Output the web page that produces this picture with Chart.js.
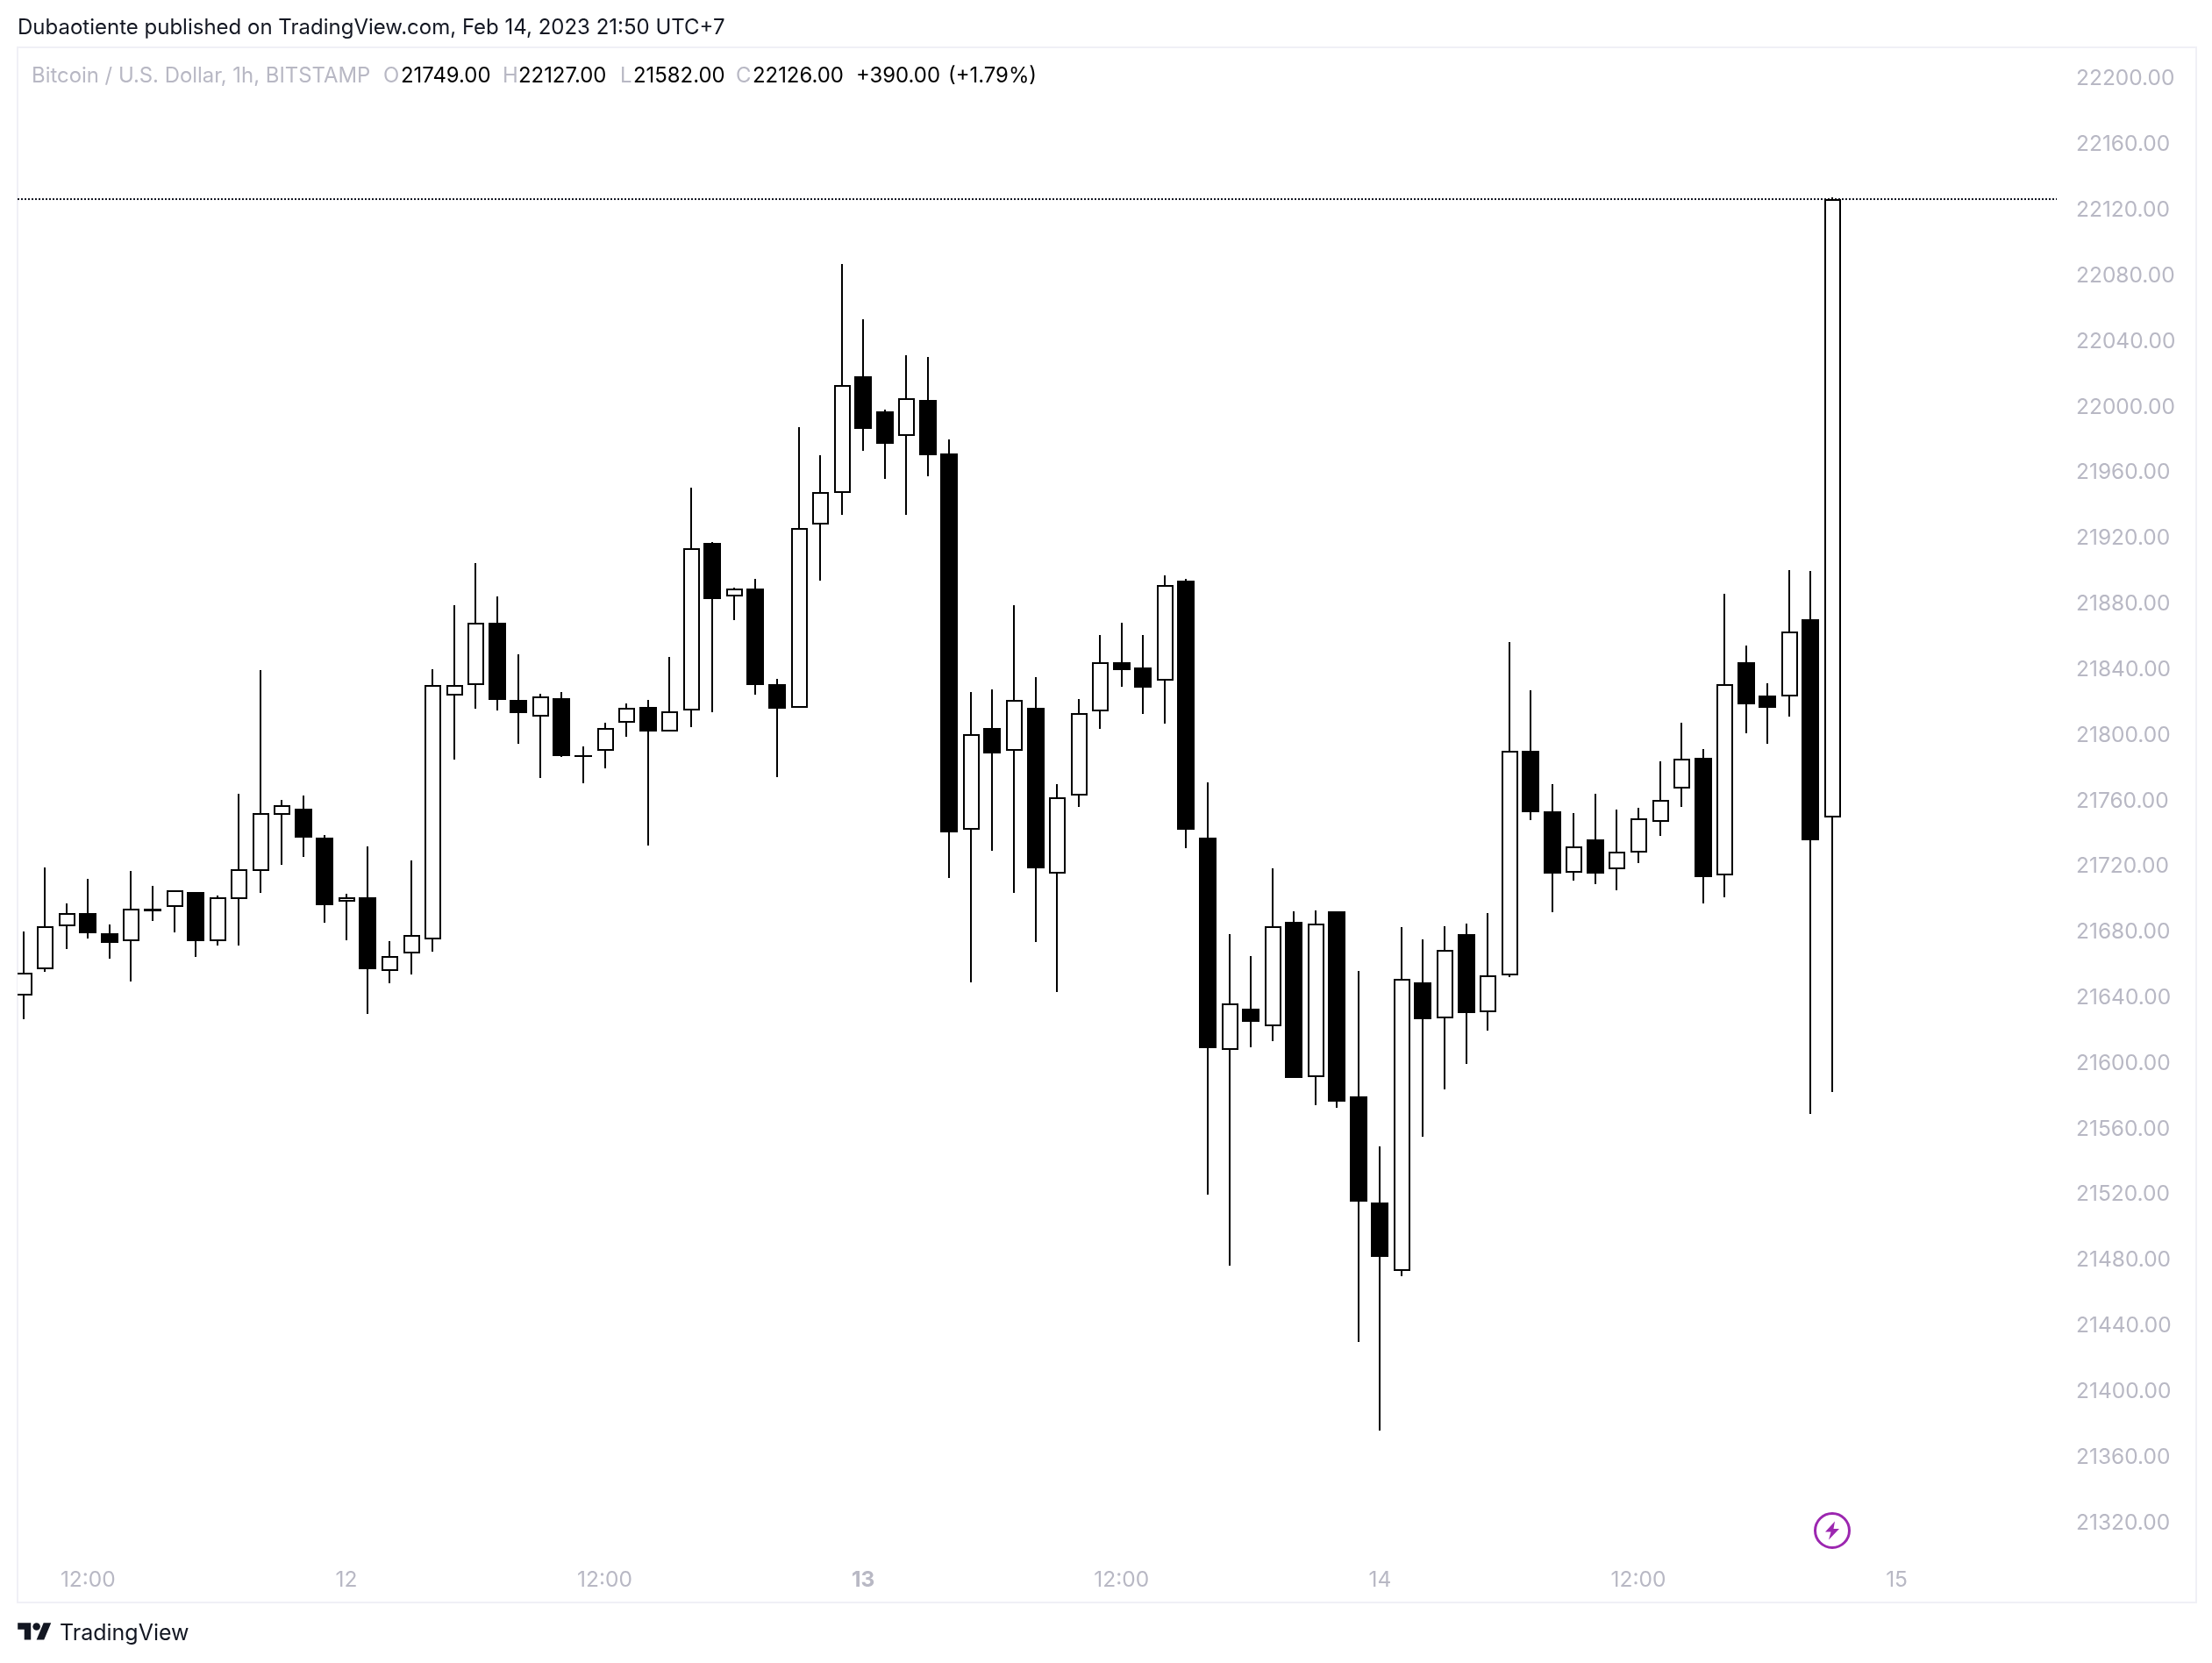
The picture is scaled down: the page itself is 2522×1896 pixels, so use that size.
<!DOCTYPE html>
<html>
<head>
<meta charset="utf-8">
<title>BTCUSD 1h</title>
<script src="https://cdn.jsdelivr.net/npm/chart.js@4"></script>
<style>
  html, body { margin: 0; background: #fff; }
  body { width: 2522px; height: 1896px; position: relative; overflow: hidden; font-family: Inter, sans-serif; }
  #c { position: absolute; left: 0; top: 0; display: block; }
  #pane { position: absolute; left: 19px; top: 53px; width: 2482px; height: 1771px; border: 2px solid #f0f0f6; }
  .txt { position: absolute; white-space: nowrap; }
  #published { left: 20px; top: 18px; font-size: 24px; line-height: 26px; color: #131722; }
  #legend span { position: absolute; top: 73px; line-height: 26px; font-size: 23.9px; white-space: nowrap; color: #000; }
  #legend span.g { color: #b8b8c4; }
  #brand { left: 68px; top: 1845px; font-size: 25px; line-height: 32px; color: #131722; }
  #logo { position: absolute; left: 20px; top: 1846px; }
</style>
</head>
<body>
<div id="pane"></div>
<canvas id="c" width="2522" height="1896"></canvas>
<div class="txt" id="published">Dubaotiente published on TradingView.com, Feb 14, 2023 21:50 UTC+7</div>
<div id="legend">
  <span class="g" style="left:36px">Bitcoin / U.S. Dollar, 1h, BITSTAMP</span>
  <span class="g" style="left:437px">O</span><span style="left:457px">21749.00</span>
  <span class="g" style="left:573px">H</span><span style="left:591px">22127.00</span>
  <span class="g" style="left:707px">L</span><span style="left:722px">21582.00</span>
  <span class="g" style="left:839px">C</span><span style="left:858px">22126.00</span>
  <span style="left:976px">+390.00</span><span style="left:1081px">(+1.79%)</span>
</div>
<svg id="logo" width="39" height="30" viewBox="0 0 36 28"><path fill="#131722" d="M14 22H7V11H0V4h14v18zM28 22h-8l7.5-18h8L28 22z"/><circle fill="#131722" cx="20" cy="8" r="4"/></svg>
<div class="txt" id="brand">TradingView</div>
<script>
const opens = [21640.8,21656.7,21682.9,21690.9,21678.6,21673.8,21693.7,21694.6,21703.7,21673.8,21699.4,21716.5,21750.8,21754.5,21736.9,21697.8,21700.5,21655.6,21666,21675,21823.5,21830,21868,21820.8,21810.6,21821.9,21787.1,21790,21806.9,21816.5,21801.5,21814.2,21916.5,21883.8,21888.8,21830.2,21815.8,21927.8,21946.9,22017.8,21996.4,21981.8,22003.8,21971.2,21741.7,21803.8,21789.7,21816.1,21715,21762.5,21813.8,21844,21840.8,21832.6,21893.2,21737,21607.6,21632.8,21621.8,21685.6,21591,21692,21578.9,21514.7,21472.9,21648.8,21626.8,21677.8,21630.3,21653,21789.9,21753,21715.4,21736,21717.5,21727.8,21746.6,21766.8,21785.3,21714,21843.8,21823.2,21822.8,21870,21749];
const closes = [21654.4,21682.7,21690.7,21678.4,21672.5,21693.4,21691.8,21704.8,21673.6,21700.5,21717.4,21751.6,21756.5,21736.7,21695.5,21700.3,21656.5,21664.5,21677.3,21829.7,21829.7,21867.7,21820.6,21812.6,21823.1,21786.4,21786,21803.5,21815.8,21801.4,21813.7,21913.1,21882.1,21888.5,21829.6,21815.5,21925.5,21947.5,22012.6,21985.9,21976.8,22004.6,21969.8,21740.2,21799.7,21788.3,21820.8,21718.2,21761.3,21812.6,21843.7,21838.7,21828.4,21890.6,21741.4,21608.3,21635.6,21624.3,21682.8,21590.6,21684.2,21576.1,21515.1,21481.4,21650.5,21626.4,21668.3,21630,21652.7,21789.5,21752.6,21715.1,21731.4,21715.1,21728.5,21748.4,21759.7,21784.9,21712.6,21830.6,21818.2,21815.8,21862.2,21735.3,22126];
const highs = [21679.8,21718.7,21697,21711.7,21684.1,21716.5,21707.6,21705,21703.7,21701.6,21763.8,21839.1,21760,21762.7,21738.5,21702.7,21731.7,21674,21723.1,21839.7,21878.7,21904,21884,21848.6,21824.5,21825.6,21792.6,21806.9,21818.6,21820.8,21847,21950.1,21917,21889,21894.7,21833.7,21986.8,21970,22086.2,22053,21997.9,22031,22029.9,21979.7,21825.8,21827,21878.3,21834.9,21769.2,21821.1,21860.1,21868,21860.1,21896.8,21894.7,21770.7,21677.8,21664.7,21717.9,21692,21692.7,21692,21655.8,21548.8,21682.1,21675,21683.1,21684.2,21690.9,21855.8,21826.7,21769.7,21751.9,21763.6,21754.1,21754.8,21783.1,21806.9,21790.9,21885.3,21854.1,21831,21900.1,21899.1,22127];
const lows = [21626,21654.9,21668.8,21675.2,21662.9,21649,21685.9,21678.9,21664,21670.9,21670.9,21703,21720.1,21724.9,21684.8,21674.1,21629.2,21647.9,21653.3,21667.2,21784.3,21815.3,21814.2,21793.9,21773,21786,21769.8,21778.9,21798.2,21731.9,21801.5,21804,21813.4,21869.2,21823.8,21773.9,21815.8,21893.2,21933.7,21972.7,21955.7,21933.7,21956.9,21712,21648.7,21729,21703,21673.1,21642.9,21755.7,21802.9,21829,21812,21806.2,21730.2,21519,21475.7,21609,21612.9,21590.6,21573.9,21572.2,21429.6,21375.7,21469.7,21554.8,21583.2,21599.1,21619,21651.9,21747.7,21691.3,21710.8,21708.7,21704.8,21721.1,21738.1,21755.8,21697,21700.5,21800.2,21793.8,21810.8,21568.6,21582];

const yTicks = [22200,22160,22120,22080,22040,22000,21960,21920,21880,21840,21800,21760,21720,21680,21640,21600,21560,21520,21480,21440,21400,21360,21320];
const xTickBars = [3,15,27,39,51,63,75,87];
const xTickLabels = ['12:00','12','12:00','13','12:00','14','12:00','15'];

const lastClose = closes[closes.length - 1];
const xMin = -0.272, xMax = 94.43;
const yMin = 21300.6, yMax = 22218.5;

const isUp = i => closes[i] >= opens[i];
const bars = opens.map((o, i) => ({x: i, y: [Math.min(o, closes[i]), Math.max(o, closes[i])]}));

// snap bars to whole pixels so the wicks stay crisp
const snapPlugin = {
  id: 'snap',
  beforeDatasetsDraw(chart) {
    chart.getSortedVisibleDatasetMetas().forEach(meta => {
      if (meta.type !== 'bar') return;
      meta.data.forEach(el => {
        el.x = Math.round(el.x) + (el.width % 2 ? 0.5 : 0);
        el.y = Math.round(el.y);
        el.base = Math.round(el.base);
      });
    });
  }
};

// the purple lightning marker under the last bar
const markerPlugin = {
  id: 'marker',
  afterDraw(chart) {
    const ctx = chart.ctx;
    const cx = Math.round(chart.scales.x.getPixelForValue(opens.length - 1));
    const cy = 1745;
    ctx.save();
    ctx.strokeStyle = '#9c27b0';
    ctx.fillStyle = '#9c27b0';
    ctx.lineWidth = 3;
    ctx.beginPath();
    ctx.arc(cx, cy, 19.5, 0, Math.PI * 2);
    ctx.stroke();
    ctx.translate(cx, cy);
    ctx.fill(new Path2D('M3 -10.5L-8 1.5L-1.5 1.5L-4 10.5L8 -2L1.5 -2Z'));
    ctx.restore();
  }
};

new Chart(document.getElementById('c'), {
  type: 'bar',
  data: {
    datasets: [
      {
        type: 'line',
        label: 'Last close',
        data: [{x: xMin, y: lastClose}, {x: xMax, y: lastClose}],
        borderColor: '#131722',
        borderWidth: 2,
        borderDash: [2, 2],
        pointRadius: 0,
        order: 3
      },
      {
        label: 'Wicks',
        data: opens.map((o, i) => ({x: i, y: [lows[i], highs[i]]})),
        backgroundColor: '#000',
        barThickness: 2,
        inflateAmount: 0,
        order: 2
      },
      {
        label: 'Up',
        data: bars.filter(b => isUp(b.x)),
        backgroundColor: '#fff',
        borderColor: '#000',
        borderWidth: 2,
        borderSkipped: false,
        barThickness: 19,
        inflateAmount: 0,
        order: 1
      },
      {
        label: 'Down',
        data: bars.filter(b => !isUp(b.x)),
        backgroundColor: '#000',
        barThickness: 20,
        inflateAmount: 0,
        order: 1
      }
    ]
  },
  plugins: [snapPlugin, markerPlugin],
  options: {
    responsive: false,
    animation: false,
    events: [],
    grouped: false,
    layout: { padding: { left: 20, top: 54, right: 0, bottom: 0 } },
    plugins: { legend: { display: false }, tooltip: { enabled: false } },
    scales: {
      x: {
        type: 'linear',
        offset: false,
        min: xMin,
        max: xMax,
        grid: { display: false, drawTicks: false },
        border: { display: false },
        afterBuildTicks(scale) { scale.ticks = xTickBars.map(v => ({value: v})); },
        afterFit(scale) { scale.height = 125; },
        ticks: {
          autoSkip: false,
          maxRotation: 0,
          padding: 16,
          color: '#b8b8c4',
          font: ctx => ({ family: 'Inter', size: 24.5, weight: ctx.tick && ctx.tick.value === 39 ? '700' : '400' }),
          callback: v => xTickLabels[xTickBars.indexOf(v)]
        }
      },
      y: {
        position: 'right',
        min: yMin,
        max: yMax,
        grid: { display: false, drawTicks: false },
        border: { display: false },
        afterBuildTicks(scale) { scale.ticks = yTicks.map(v => ({value: v})); },
        afterFit(scale) { scale.width = 177; },
        ticks: {
          autoSkip: false,
          padding: 22,
          labelOffset: 1.5,
          color: '#b8b8c4',
          font: { family: 'Inter', size: 24.5 },
          callback: v => v.toFixed(2)
        }
      }
    }
  }
});
</script>
</body>
</html>
